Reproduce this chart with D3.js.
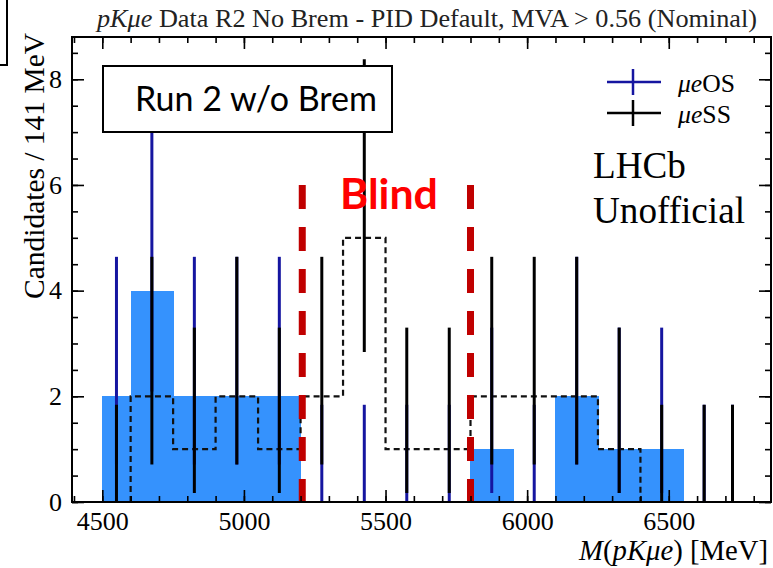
<!DOCTYPE html>
<html>
<head>
<meta charset="utf-8">
<script src="https://cdn.jsdelivr.net/npm/d3@7"></script>
<style>
  html, body { margin: 0; padding: 0; background: #fff; }
  svg { display: block; }
</style>
</head>
<body>
<svg id="chart" width="773" height="568"></svg>
<script>
// ---- data ----
const binLo = [4500, 4600, 4750, 4900, 5050, 5200, 5350, 5500, 5650, 5800, 5950, 6100, 6250, 6400, 6550, 6700];
const binHi = [4600, 4750, 4900, 5050, 5200, 5350, 5500, 5650, 5800, 5950, 6100, 6250, 6400, 6550, 6700, 6750];
const osCounts = [2, 4, 2, 2, 2, 0, 0, 0, 0, 1, 0, 2, 1, 1, 0, 0];   // mu e OS (filled + blue bars)
const ssCounts = [0, 2, 1, 2, 1, 2, 5, 1, 1, 2, 2, 2, 1, 0, 0, 0];   // mu e SS (dashed + black bars)
// Poisson interval ends seen on the bars, per count
const intervalLow  = {0: 0,    1: 0.17, 2: 0.71, 4: 2.09, 5: 2.84};
const intervalHigh = {0: 1.84, 1: 3.30, 2: 4.64, 4: 7.16, 5: 8.38};
const blindEdges = [5206, 5800];
const blindTop = 6;
const xMajorTicks = [4500, 5000, 5500, 6000, 6500];
const xMinorTicks = d3.range(4400, 6801, 100);
const yMajorTicks = [0, 2, 4, 6, 8];
const yMinorTicks = d3.range(0, 8.51, 0.5);

// ---- layout ----
const svg = d3.select("#chart");
const L = 72, R = 771, T = 37, B = 502;
const x = d3.scaleLinear().domain([4393, 6861]).range([L, R]);
const y = d3.scaleLinear().domain([0, 8.8]).range([B, T]);
const serif = "'Liberation Serif', 'Times New Roman', serif";
const sans = "Lato, 'Open Sans', sans-serif";

function fitWidth(sel, target) {
  const fs = parseFloat(sel.attr("font-size"));
  const w = sel.node().getComputedTextLength();
  sel.attr("font-size", (fs * target / w).toFixed(2));
}

// corner of a neighbouring slide box
svg.append("path").attr("d", "M7,0V65H0").attr("fill", "none").attr("stroke", "#000").attr("stroke-width", 2);

// OS filled histogram
svg.append("g").selectAll("rect")
  .data(binLo.map((lo, i) => ({lo, hi: binHi[i], c: osCounts[i]})).filter(d => d.c > 0))
  .join("rect")
  .attr("x", d => x(d.lo)).attr("width", d => x(d.hi) - x(d.lo) + 0.6)
  .attr("y", d => y(d.c)).attr("height", d => y(0) - y(d.c))
  .attr("fill", "#3592fd")
  .attr("shape-rendering", "crispEdges");

// SS dashed step histogram
const ssFirst = ssCounts.findIndex(c => c > 0);
const ssLast = ssCounts.length - 1 - [...ssCounts].reverse().findIndex(c => c > 0);
const stepPts = [[binLo[ssFirst], 0]];
for (let i = ssFirst; i <= ssLast; i++) { stepPts.push([binLo[i], ssCounts[i]]); stepPts.push([binHi[i], ssCounts[i]]); }
stepPts.push([binHi[ssLast], 0]);
svg.append("path")
  .attr("d", d3.line().x(d => x(d[0])).y(d => y(d[1]))(stepPts))
  .attr("fill", "none").attr("stroke", "#111").attr("stroke-width", 2.2)
  .attr("stroke-dasharray", "6,4");

// error bars
const centers = binLo.map((lo, i) => (lo + binHi[i]) / 2);
function bars(counts, color) {
  svg.append("g").selectAll("line")
    .data(counts.map((c, i) => ({xc: centers[i], c})))
    .join("line")
    .attr("x1", d => x(d.xc)).attr("x2", d => x(d.xc))
    .attr("y1", d => y(intervalLow[d.c])).attr("y2", d => y(intervalHigh[d.c]))
    .attr("stroke", color).attr("stroke-width", 3);
}
bars(osCounts, "#1515a0");
bars(ssCounts, "#000");

// blind lines
svg.append("g").selectAll("line").data(blindEdges).join("line")
  .attr("x1", d => x(d)).attr("x2", d => x(d))
  .attr("y1", y(blindTop)).attr("y2", y(0))
  .attr("stroke", "#c00000").attr("stroke-width", 7)
  .attr("stroke-dasharray", "24,18");

// axes / frame
function axisG(axis, tx, ty) {
  const g = svg.append("g").attr("transform", `translate(${tx},${ty})`).call(axis);
  g.select(".domain").remove();
  g.selectAll(".tick line").attr("stroke", "#000").attr("stroke-width", 1.6);
  g.selectAll("text").attr("font-family", serif).attr("font-size", 26).attr("fill", "#000");
  return g;
}
axisG(d3.axisBottom(x).tickValues(xMinorTicks).tickSize(-6).tickFormat(""), 0, B);
axisG(d3.axisBottom(x).tickValues(xMajorTicks).tickSize(-12).tickPadding(10).tickFormat(d3.format("d")), 0, B);
axisG(d3.axisTop(x).tickValues(xMinorTicks).tickSize(-6).tickFormat(""), 0, T);
axisG(d3.axisTop(x).tickValues(xMajorTicks).tickSize(-12).tickFormat(""), 0, T);
axisG(d3.axisLeft(y).tickValues(yMinorTicks).tickSize(-6).tickFormat(""), L, 0);
axisG(d3.axisLeft(y).tickValues(yMajorTicks).tickSize(-12).tickPadding(10).tickFormat(d3.format("d")), L, 0);
axisG(d3.axisRight(y).tickValues(yMinorTicks).tickSize(-6).tickFormat(""), R, 0);
axisG(d3.axisRight(y).tickValues(yMajorTicks).tickSize(-12).tickFormat(""), R, 0);
svg.append("rect").attr("x", L).attr("y", T).attr("width", R - L).attr("height", B - T)
  .attr("fill", "none").attr("stroke", "#000").attr("stroke-width", 2);

// title
const title = svg.append("text").attr("x", 97).attr("y", 27)
  .attr("font-family", serif).attr("font-size", 22).attr("fill", "#222");
title.append("tspan").attr("font-style", "italic").text("pKμe");
title.append("tspan").text(" Data R2 No Brem - PID Default, MVA > 0.56 (Nominal)");
fitWidth(title, 660);

// y label
const yl = svg.append("text")
  .attr("transform", "translate(44,299) rotate(-90)")
  .attr("font-family", serif).attr("font-size", 30).attr("fill", "#000")
  .text("Candidates / 141 MeV");
fitWidth(yl, 266);

// x label
const xl = svg.append("text").attr("x", 0).attr("y", 560)
  .attr("font-family", serif).attr("font-size", 28).attr("fill", "#000");
xl.append("tspan").attr("font-style", "italic").text("M");
xl.append("tspan").text("(");
xl.append("tspan").attr("font-style", "italic").text("pKμe");
xl.append("tspan").text(") [MeV]");
fitWidth(xl, 189);
xl.attr("x", 768 - xl.node().getComputedTextLength());

// text box
svg.append("rect").attr("x", 103).attr("y", 66).attr("width", 289).attr("height", 66)
  .attr("fill", "#fff").attr("stroke", "#000").attr("stroke-width", 2);
const rb = svg.append("text").attr("x", 135).attr("y", 111)
  .attr("font-family", sans).attr("font-size", 30).attr("fill", "#000").text("Run 2 w/o Brem");
fitWidth(rb, 242);

// Blind label
const bl = svg.append("text").attr("x", 340).attr("y", 209)
  .attr("font-family", sans).attr("font-weight", "bold").attr("font-size", 40).attr("fill", "#ff0000").text("Blind");
fitWidth(bl, 98);

// legend
const legend = [
  {label: "OS", color: "#1515a0", yc: 82},
  {label: "SS", color: "#000", yc: 113}
];
legend.forEach(d => {
  svg.append("line").attr("x1", 607).attr("x2", 661).attr("y1", d.yc).attr("y2", d.yc)
    .attr("stroke", d.color).attr("stroke-width", 2.5);
  svg.append("line").attr("x1", 633).attr("x2", 633).attr("y1", d.yc - 13).attr("y2", d.yc + 13)
    .attr("stroke", d.color).attr("stroke-width", 2.5);
  const t = svg.append("text").attr("x", 678).attr("y", d.yc + 10)
    .attr("font-family", serif).attr("font-size", 24).attr("fill", "#000");
  t.append("tspan").attr("font-style", "italic").text("μe");
  t.append("tspan").text(d.label);
  fitWidth(t, d.label === "OS" ? 57 : 53);
});

// LHCb text
const lh = svg.append("text").attr("x", 593).attr("y", 178)
  .attr("font-family", serif).attr("font-size", 36).attr("fill", "#000").text("LHCb");
const un = svg.append("text").attr("x", 593).attr("y", 223)
  .attr("font-family", serif).attr("font-size", 36).attr("fill", "#000").text("Unofficial");
fitWidth(un, 152);
lh.attr("font-size", un.attr("font-size"));
</script>
</body>
</html>
